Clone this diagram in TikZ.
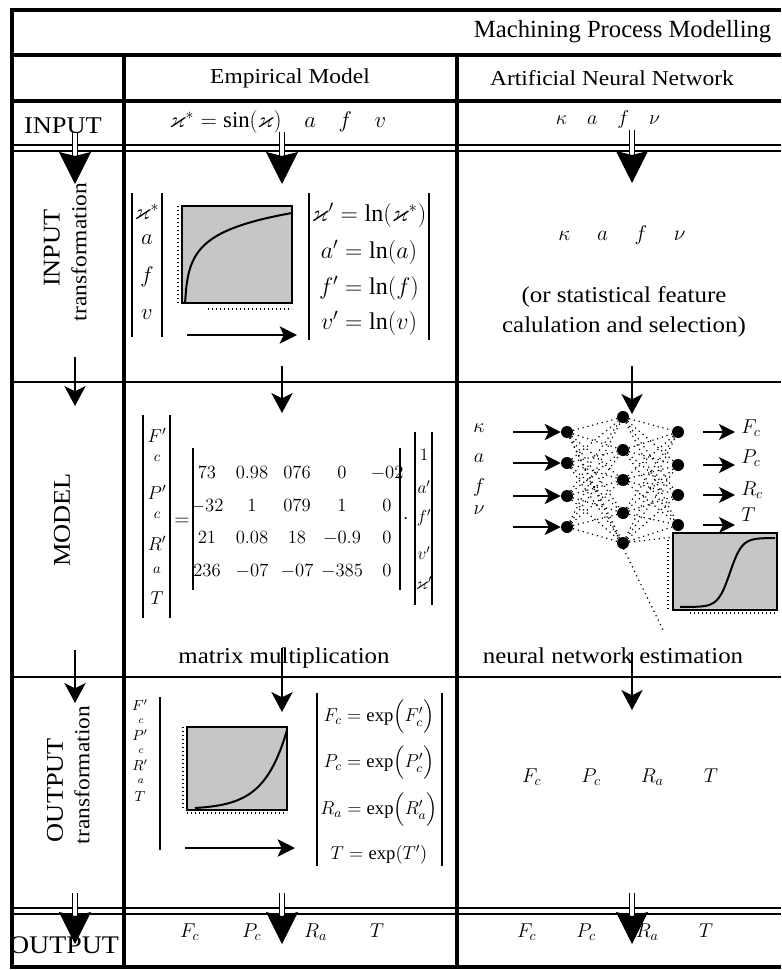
\RequirePackage{fix-cm}
\documentclass[tikz,border=0pt]{standalone}
\usepackage{amsmath,amssymb}
\usepackage{fontspec}
\setmainfont{Liberation Serif}
\newfontfamily\widefont{Liberation Serif}[FakeStretch=1.1]
\usetikzlibrary{arrows.meta, matrix, calc}

\begin{document}
\begin{tikzpicture}[
        x=0.75pt, y=-0.75pt,
        frame/.style={line width=3pt},
        rule/.style={line width=1.2pt},
        rowlabel/.style={font=\widefont\fontsize{18}{20}\selectfont, inner sep=0pt},
        sublabel/.style={font=\widefont\fontsize{16}{18}\selectfont, inner sep=0pt},
        header/.style={font=\widefont\fontsize{16}{18}\selectfont},
        body/.style={font=\widefont\fontsize{17}{23}\selectfont, align=center},
        var/.style={font=\fontsize{15}{18}\selectfont, inner sep=0pt},
        smallvar/.style={font=\fontsize{11}{13}\selectfont, inner sep=0pt},
        bar/.style={line width=1pt},
        dblarrow/.style={double, double distance=2.5pt, line width=0.8pt, -{Stealth[length=24pt, width=24pt, inset=3pt]}},
        flowarrow/.style={line width=1pt, -{Stealth[length=15pt, width=16pt, inset=4pt]}},
        maparrow/.style={line width=1.5pt, -{Stealth[length=13pt, width=13pt, inset=3pt]}},
        netarrow/.style={line width=1.2pt, -{Stealth[length=12pt, width=12pt, inset=3pt]}},
        chart/.style={fill=gray!45, draw=black, line width=0.8pt},
        ticks/.style={line width=1pt, dash pattern=on 1pt off 2pt},
        curve/.style={line width=1.5pt},
        neuron/.style={circle, fill=black, inner sep=0pt, minimum size=9pt},
        synapse/.style={line width=0.9pt, dash pattern=on 0.9pt off 2.8pt}
    ]
    \useasboundingbox (0,0) rectangle (781,970);

    % table grid
    \draw[frame] (10,10) -- (781,10);
    \draw[frame] (12,10) -- (12,968);
    \draw[frame] (10,55) -- (781,55);
    \draw[line width=2.5pt] (12,101) -- (781,101);
    \draw[rule] (12,145) -- (781,145);
    \draw[rule] (12,151) -- (781,151);
    \draw[rule] (12,382) -- (781,382);
    \draw[rule] (12,677) -- (781,677);
    \draw[rule] (12,908) -- (781,908);
    \draw[rule] (12,914) -- (781,914);
    \draw[frame] (10,967) -- (781,967);
    \draw[frame] (124,55) -- (124,968);
    \draw[frame] (457,55) -- (457,968);

    \node[anchor=east, font=\fontsize{18.5}{20}\selectfont] (title) at (776,32) {Machining Process Modelling};
    \node[header] (emphead) at (290,78) {Empirical Model};
    \node[header] (annhead) at (612,78) {Artificial Neural Network};

    % row labels
    \node[rowlabel] (lin) at (63,126) {INPUT};
    \node[rowlabel, rotate=90] (lintr) at (52,248) {INPUT};
    \node[sublabel, rotate=90] (lintr2) at (79,252) {transformation};
    \node[rowlabel, rotate=90] (lmod) at (62,520) {MODEL};
    \node[rowlabel, rotate=90] (louttr) at (55,790) {OUTPUT};
    \node[sublabel, rotate=90] (louttr2) at (82,775) {transformation};
    \node[rowlabel, font=\widefont\fontsize{19}{20}\selectfont] (lout) at (64,945) {OUTPUT};

    \coordinate (la1) at (75,133);  \coordinate (la2) at (75,184);
    \coordinate (la3) at (75,357);  \coordinate (la4) at (75,406);
    \coordinate (la5) at (75,650);  \coordinate (la6) at (75,703);
    \coordinate (la7) at (75,893);  \coordinate (la8) at (75,944);
    \draw[dblarrow] (la1) -- (la2);
    \draw[flowarrow] (la3) -- (la4);
    \draw[flowarrow] (la5) -- (la6);
    \draw[dblarrow] (la7) -- (la8);

    % empirical model column
    \node[var, font=\fontsize{17}{19}\selectfont] (ein) at (278,122) {$\varkappa^* = \sin(\varkappa)\quad a\quad f\quad v$};
    \coordinate (ea1) at (282,132);  \coordinate (ea2) at (282,184);
    \draw[dblarrow] (ea1) -- (ea2);

    \draw[bar] (132,193) -- (132,337);
    \draw[bar] (162,193) -- (162,337);
    \foreach \txt/\ypos [count=\k] in {{\varkappa^*}/212, a/240, f/277, v/315}
        \node[var, font=\fontsize{17}{19}\selectfont] (xin\k) at (147,\ypos) {$\txt$};

    \draw[ticks] (178,206) -- (178,303);
    \draw[ticks] (208,309) -- (292,309);
    \draw[chart] (182,206) rectangle (292,303);
    \draw[curve] plot[domain=185:292, samples=80] (\x, {303-90*ln(\x-184)/ln(108)});
    \coordinate (lnmap1) at (187,335);  \coordinate (lnmap2) at (297,335);
    \draw[maparrow] (lnmap1) -- (lnmap2);

    \draw[bar] (309,193) -- (309,340);
    \draw[bar] (429,193) -- (429,340);
    \foreach \txt/\ypos [count=\k] in {{\varkappa' = \ln(\varkappa^*)}/215, {a' = \ln(a)}/252, {f' = \ln(f)}/288, {v' = \ln(v)}/323}
        \node[var, font=\fontsize{18}{20}\selectfont] (xln\k) at (369,\ypos) {$\txt$};

    \coordinate (ea3) at (282,366);  \coordinate (ea4) at (282,413);
    \draw[flowarrow] (ea3) -- (ea4);

    \draw[bar] (143,415) -- (143,618);
    \draw[bar] (170,415) -- (170,618);
    \foreach \txt/\ypos [count=\k] in {F'/435, P'/492, R'/543, T/598}
        \node[var, font=\fontsize{14}{16}\selectfont] (yl\k) at (157,\ypos) {$\txt$};
    \foreach \txt/\ypos [count=\k] in {c/458, c/515, a/570}
        \node[smallvar] (ys\k) at (157,\ypos) {$\txt$};
    \node[var] (eqsign) at (182,522) {$=$};

    \matrix (coef) [matrix of math nodes, nodes={minimum width=33.75pt, minimum height=23.8pt, inner sep=0pt, font=\fontsize{14}{16}\selectfont}] at (297,522) {
        73 & 0.98 & 076 & 0 & -02 \\
        -32 & 1 & 079 & 1 & 0 \\
        21 & 0.08 & 18 & -0.9 & 0 \\
        236 & -07 & -07 & -385 & 0 \\
    };
    \draw[bar] (193,448) -- (193,590);
    \draw[bar] (400,448) -- (400,590);
    \node[var] (dotop) at (406,519) {$\cdot$};

    \draw[bar] (415,432) -- (415,605);
    \draw[bar] (432,432) -- (432,605);
    \foreach \txt/\ypos [count=\k] in {1/455, a'/487, f'/518, v'/553, {\varkappa'}/583}
        \node[var, font=\fontsize{13}{15}\selectfont] (xr\k) at (424,\ypos) {$\txt$};

    \node[body] (matmul) at (284,658) {matrix multiplication};
    \coordinate (ea5) at (282,648);  \coordinate (ea6) at (282,712);
    \draw[flowarrow] (ea5) -- (ea6);

    \draw[bar] (160,697) -- (160,850);
    \foreach \txt/\ypos [count=\k] in {F'/705, P'/735, R'/765, T/796}
        \node[var, font=\fontsize{11}{13}\selectfont] (ol\k) at (140,\ypos) {$\txt$};
    \foreach \txt/\ypos [count=\k] in {c/721, c/751, a/781}
        \node[smallvar, font=\fontsize{8}{9}\selectfont] (os\k) at (141,\ypos) {$\txt$};

    \draw[ticks] (183,727) -- (183,810);
    \draw[ticks] (187,813) -- (287,813);
    \draw[chart] (187,727) rectangle (287,810);
    \draw[curve] plot[domain=195:287, samples=60] (\x, {808-78*(exp(4*(\x-195)/92)-1)/(exp(4)-1)});
    \coordinate (expmap1) at (185,848);  \coordinate (expmap2) at (295,848);
    \draw[maparrow] (expmap1) -- (expmap2);

    \draw[bar] (317,693) -- (317,866);
    \draw[bar] (442,693) -- (442,866);
    \foreach \txt/\ypos [count=\k] in {{F_c = \exp\Bigl(F_c'\Bigr)}/717, {P_c = \exp\Bigl(P_c'\Bigr)}/763, {R_a = \exp\Bigl(R_a'\Bigr)}/810, {T = \exp(T')}/855}
        \node[var, font=\fontsize{14}{16}\selectfont] (oexp\k) at (379,\ypos) {$\txt$};

    \coordinate (ea7) at (282,893);  \coordinate (ea8) at (282,944);
    \node[var] (eout) at (282,932) {$F_c\hspace{32pt}P_c\hspace{32pt}R_a\hspace{32pt}T$};
    \draw[dblarrow] (ea7) -- (ea8);

    % neural network column
    \node[var] (ain) at (608,120) {$\kappa\quad a\quad f\quad \nu$};
    \coordinate (aa1) at (632,130);  \coordinate (aa2) at (632,183);
    \draw[dblarrow] (aa1) -- (aa2);

    \node[var, font=\fontsize{16}{18}\selectfont] (annvars) at (622,235) {$\kappa\hspace{20pt}a\hspace{20pt}f\hspace{20pt}\nu$};
    \node[body] (annnote) at (624,312) {(or statistical feature\\calulation and selection)};

    \foreach \txt/\ylab/\ynode [count=\i] in {\kappa/428/432, a/458/463, f/487/496, \nu/510/527} {
        \node[var] (inlab\i) at (479,\ylab) {$\txt$};
        \node[neuron] (in\i) at (567,\ynode) {};
        \coordinate (src\i) at (513,\ynode);
    }
    \foreach \ynode [count=\j] in {417, 450, 480, 513, 543}
        \node[neuron] (hid\j) at (623,\ynode) {};
    \foreach \txt/\ylab/\ynode [count=\i] in {F_c/428/432, P_c/458/465, R_c/490/495, T/515/525} {
        \node[neuron] (out\i) at (678,\ynode) {};
        \coordinate (dst\i) at (735,\ynode);
        \node[var, anchor=west] (outlab\i) at (741,\ylab) {$\txt$};
    }
    \foreach \i in {1,...,4} {
        \foreach \j in {1,...,5} {
            \draw[synapse] (in\i) -- (hid\j);
            \draw[synapse] (hid\j) -- (out\i);
        }
        \draw[netarrow] (src\i) -- (in\i);
        \draw[netarrow, shorten <=14pt] (out\i) -- (dst\i);
    }
    \coordinate (tail) at (663,630);
    \draw[synapse] (in1) -- (tail);

    \coordinate (aa3) at (632,366);  \coordinate (aa3e) at (632,414);
    \draw[flowarrow] (aa3) -- (aa3e);

    \draw[synapse] (hid5) -- (673,537);
    \draw[ticks] (668,540) -- (668,610);
    \draw[ticks] (690,613) -- (777,613);
    \draw[chart] (673,533) rectangle (777,610);
    \draw[curve] plot[domain=680:775, samples=80] (\x, {607-69/(1+exp(-(\x-730)/6))});

    \node[body] (nnest) at (613,656) {neural network estimation};
    \coordinate (aa4) at (632,652);  \coordinate (aa5) at (632,710);
    \draw[flowarrow] (aa4) -- (aa5);

    \node[var] (aoutt) at (620,777) {$F_c\hspace{30pt}P_c\hspace{30pt}R_a\hspace{30pt}T$};

    \coordinate (aa6) at (632,893);  \coordinate (aa7) at (632,944);
    \node[var] (aout) at (615,932) {$F_c\hspace{30pt}P_c\hspace{30pt}R_a\hspace{30pt}T$};
    \draw[dblarrow] (aa6) -- (aa7);
\end{tikzpicture}
\end{document}
